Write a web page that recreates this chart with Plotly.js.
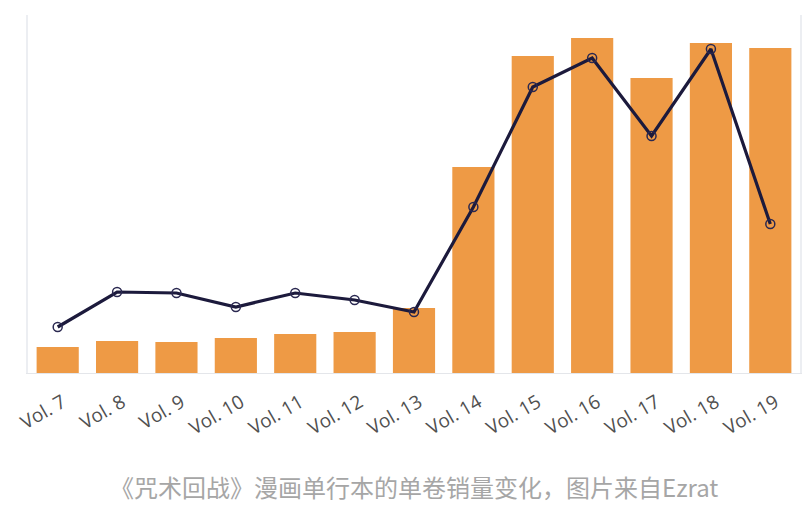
<!DOCTYPE html>
<html>
<head>
<meta charset="utf-8">
<script src="https://cdn.plot.ly/plotly-3.0.1.min.js"></script>
<style>html,body{margin:0;padding:0;background:#fff;}#chart{width:802px;height:511px;}</style>
</head>
<body>
<div id="chart"></div>
<script>
const volumes = ["Vol. 7","Vol. 8","Vol. 9","Vol. 10","Vol. 11","Vol. 12","Vol. 13","Vol. 14","Vol. 15","Vol. 16","Vol. 17","Vol. 18","Vol. 19"];
const barValues = [26, 32, 31, 35, 39, 41, 65, 206, 317, 335, 295, 330, 325];
const lineValues = [46, 81, 80, 66, 80, 73, 61, 166, 286, 315, 237, 324, 149];
const caption = "《咒术回战》漫画单行本的单卷销量变化，图片来自Ezrat";

const traces = [
  {
    type: "bar",
    x: volumes,
    y: barValues,
    marker: {color: "#EE9A45"},
    hoverinfo: "x+y"
  },
  {
    type: "scatter",
    mode: "lines+markers",
    x: volumes,
    y: lineValues,
    line: {color: "#1c1a3c", width: 3.2},
    marker: {symbol: "circle-open", size: 9, color: "#2a2850", line: {width: 1.5}}
  }
];

const layout = {
  width: 802,
  height: 511,
  margin: {l: 28, r: 2, t: 15, b: 138, autoexpand: false},
  paper_bgcolor: "#ffffff",
  plot_bgcolor: "#ffffff",
  showlegend: false,
  bargap: 0.29,
  font: {family: "'Open Sans', 'Noto Sans CJK SC', sans-serif", color: "#444"},
  xaxis: {
    type: "category",
    range: [-0.5, 12.5],
    automargin: false,
    tickangle: -30,
    ticklabelstandoff: 10,
    ticklabelshift: 5,
    tickfont: {size: 19, color: "#505050", family: "'Open Sans', sans-serif"},
    showline: true,
    linecolor: "#e4e6ea",
    linewidth: 1,
    ticks: "",
    showgrid: false,
    zeroline: false
  },
  yaxis: {
    range: [0, 358],
    automargin: false,
    showticklabels: false,
    showgrid: false,
    zeroline: false,
    showline: true,
    linecolor: "#eceef2",
    linewidth: 2,
    mirror: true,
    ticks: ""
  },
  annotations: [
    {
      text: caption,
      xref: "paper",
      yref: "paper",
      x: 0.5,
      y: -0.318,
      xanchor: "center",
      yanchor: "middle",
      showarrow: false,
      font: {size: 24, color: "#a6a6a6", family: "'Noto Sans CJK SC', 'Noto Sans', sans-serif"}
    }
  ]
};

Plotly.newPlot("chart", traces, layout, {displayModeBar: false, staticPlot: true});
</script>
</body>
</html>
